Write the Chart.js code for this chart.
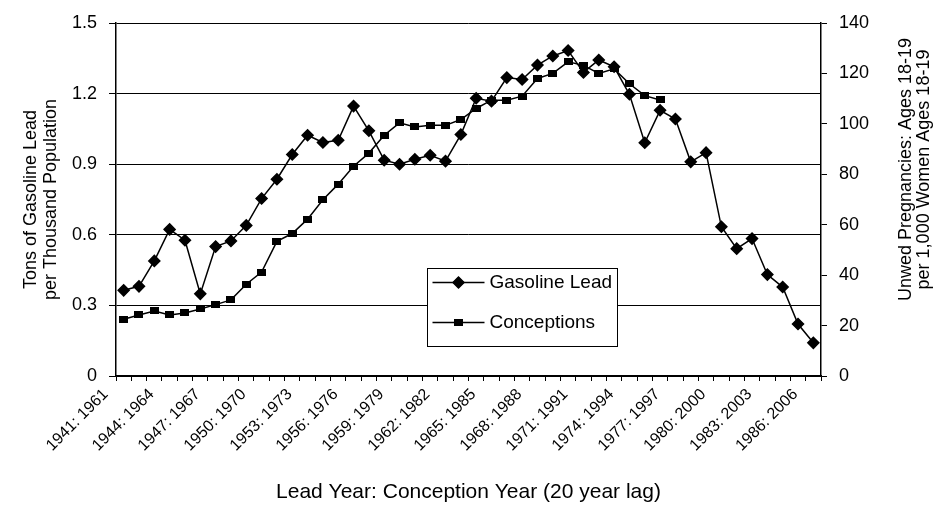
<!DOCTYPE html>
<html>
<head>
<meta charset="utf-8">
<script src="https://cdn.jsdelivr.net/npm/chart.js@4.4.1/dist/chart.umd.min.js"></script>
<style>
  html, body { margin: 0; padding: 0; background: #fff; }
  #wrap { width: 943px; height: 510px; }
</style>
</head>
<body>
<div id="wrap"><canvas id="leadChart" width="943" height="510"></canvas></div>
<script>
// Годы: свинец / зачатие (сдвиг 20 лет)
const categories = [
    '1941: 1961', '1942: 1962', '1943: 1963', '1944: 1964', '1945: 1965', '1946: 1966',
    '1947: 1967', '1948: 1968', '1949: 1969', '1950: 1970', '1951: 1971', '1952: 1972',
    '1953: 1973', '1954: 1974', '1955: 1975', '1956: 1976', '1957: 1977', '1958: 1978',
    '1959: 1979', '1960: 1980', '1961: 1981', '1962: 1982', '1963: 1983', '1964: 1984',
    '1965: 1985', '1966: 1986', '1967: 1987', '1968: 1988', '1969: 1989', '1970: 1990',
    '1971: 1991', '1972: 1992', '1973: 1993', '1974: 1994', '1975: 1995', '1976: 1996',
    '1977: 1997', '1978: 1998', '1979: 1999', '1980: 2000', '1981: 2001', '1982: 2002',
    '1983: 2003', '1984: 2004', '1985: 2005', '1986: 2006'
];

// Тонны свинца на тысячу жителей
const gasolineLead = [
    0.364, 0.381, 0.489, 0.623, 0.577, 0.349, 0.550, 0.574, 0.640, 0.754,
    0.836, 0.941, 1.023, 0.992, 1.002, 1.147, 1.042, 0.917, 0.900, 0.921,
    0.938, 0.913, 1.026, 1.180, 1.168, 1.268, 1.260, 1.321, 1.360, 1.383,
    1.290, 1.343, 1.314, 1.197, 0.991, 1.129, 1.092, 0.910, 0.949, 0.634,
    0.541, 0.584, 0.431, 0.378, 0.221, 0.141
];

// Внебрачные беременности на 1000 женщин 18-19 лет
const conceptions = [
    22.5, 24.2, 25.8, 24.2, 25.0, 26.6, 28.3, 30.2, 36.4, 41.2,
    53.4, 56.5, 62.2, 69.9, 76.1, 83.2, 88.4, 95.5, 100.4, 98.8,
    99.4, 99.4, 101.7, 106.1, 109.4, 109.4, 111.0, 118.0, 120.0, 124.6,
    123.2, 120.0, 121.8, 115.9, 111.2, 109.5, null, null, null, null,
    null, null, null, null, null, null
];

const leadTicks = ['0', '0.3', '0.6', '0.9', '1.2', '1.5'];
const rateTicks = ['0', '20', '40', '60', '80', '100', '120', '140'];

const FONT = "'Liberation Sans', Arial, sans-serif";
Chart.defaults.font.family = FONT;
Chart.defaults.color = '#000';

// Маркер-прямоугольник, как в Excel (шире, чем выше)
const squareMark = document.createElement('canvas');
squareMark.width = 9;
squareMark.height = 7;
const sq = squareMark.getContext('2d');
sq.fillStyle = '#000';
sq.fillRect(0, 0, 9, 7);

// Легенда внутри графика и правая подпись оси (текст снизу вверх)
const extras = {
    id: 'extras',
    afterDraw(chart) {
        const c = chart.ctx;
        const area = chart.chartArea;
        c.save();

        // правая подпись
        const midY = (area.top + area.bottom) / 2 - 30;
        c.font = '18px ' + FONT;
        c.fillStyle = '#000';
        c.textAlign = 'center';
        c.textBaseline = 'middle';
        [['Unwed Pregnancies: Ages 18-19', 906], ['per 1,000 Women Ages 18-19', 924]].forEach(([t, x]) => {
            c.save();
            c.translate(x, midY);
            c.rotate(-Math.PI / 2);
            c.fillText(t, 0, 0);
            c.restore();
        });

        // легенда
        const box = { x: 427.5, y: 268.5, w: 190, h: 78 };
        c.fillStyle = '#fff';
        c.fillRect(box.x, box.y, box.w, box.h);
        c.strokeStyle = '#000';
        c.lineWidth = 1;
        c.strokeRect(box.x, box.y, box.w, box.h);

        chart.data.datasets.forEach((ds, i) => {
            const y = box.y + 14 + i * 40;
            c.strokeStyle = '#000';
            c.lineWidth = 1.5;
            c.beginPath();
            c.moveTo(box.x + 5, y);
            c.lineTo(box.x + 57, y);
            c.stroke();
            c.fillStyle = '#000';
            if (ds.pointStyle === squareMark) {
                c.drawImage(squareMark, box.x + 31 - 4.5, y - 3.5);
            } else {
                c.beginPath();
                Chart.helpers.drawPoint(c, {
                    pointStyle: ds.pointStyle, radius: ds.pointRadius, rotation: 0, borderWidth: 1
                }, box.x + 31, y);
                c.fill();
            }
            c.font = '19px ' + FONT;
            c.textAlign = 'left';
            c.fillText(ds.label, box.x + 62, y);
        });
        c.restore();
    }
};

const ctx = document.getElementById('leadChart').getContext('2d');
new Chart(ctx, {
    type: 'line',
    data: {
        labels: categories,
        datasets: [{
            label: 'Gasoline Lead',
            data: gasolineLead,
            yAxisID: 'yLead',
            borderColor: '#000',
            backgroundColor: '#000',
            borderWidth: 1.5,
            pointStyle: 'rectRot',
            pointRadius: 5.5,
            pointHoverRadius: 5.5,
            tension: 0
        }, {
            label: 'Conceptions',
            data: conceptions,
            yAxisID: 'yRate',
            borderColor: '#000',
            backgroundColor: '#000',
            borderWidth: 1.5,
            pointStyle: squareMark,
            pointRadius: 4.5,
            pointHoverRadius: 4.5,
            tension: 0
        }]
    },
    options: {
        responsive: false,
        animation: false,
        layout: { padding: { top: 23, left: 0, right: 0, bottom: 0 } },
        plugins: {
            legend: { display: false },
            tooltip: { enabled: false }
        },
        scales: {
            x: {
                offset: true,
                grid: { offset: true, drawOnChartArea: false, color: '#000', tickLength: 5 },
                border: { color: '#000', width: 1.5 },
                ticks: {
                    autoSkip: false,
                    maxRotation: 45,
                    minRotation: 45,
                    padding: 4,
                    labelOffset: -18,
                    font: { size: 16 },
                    callback: (v, i) => (i % 3 === 0 ? categories[i] : '')
                },
                title: {
                    display: true,
                    text: 'Lead Year: Conception Year (20 year lag)',
                    font: { size: 21 },
                    padding: { top: 0, bottom: 5 }
                },
                afterFit: s => { s.height = 134; }
            },
            yLead: {
                position: 'left',
                min: 0,
                max: 1.5,
                ticks: {
                    stepSize: 0.3,
                    padding: 12,
                    font: { size: 18 },
                    callback: (v, i) => leadTicks[i]
                },
                grid: { color: '#000', lineWidth: 1, tickLength: 7 },
                border: { color: '#000', width: 1.5 },
                title: {
                    display: true,
                    text: ['Tons of Gasoline Lead', 'per Thousand Population'],
                    font: { size: 18, lineHeight: 1.1 },
                    padding: { top: 21, bottom: 0 }
                },
                afterFit: s => { s.width = 116; }
            },
            yRate: {
                position: 'right',
                min: 0,
                max: 140,
                ticks: {
                    stepSize: 20,
                    padding: 12,
                    font: { size: 18 },
                    callback: (v, i) => rateTicks[i]
                },
                grid: { drawOnChartArea: false, color: '#000', tickLength: 6 },
                border: { color: '#000', width: 1.5 },
                afterFit: s => { s.width = 122; }
            }
        }
    },
    plugins: [extras]
});
</script>
</body>
</html>
